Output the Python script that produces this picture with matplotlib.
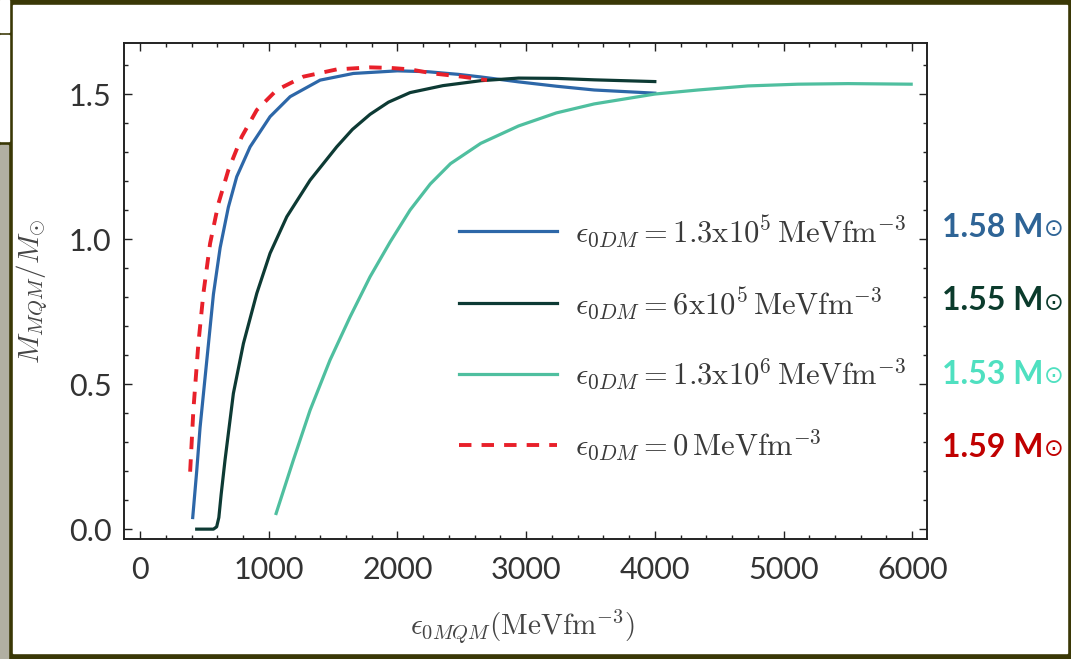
import matplotlib
matplotlib.use("Agg")
from matplotlib import pyplot as plt
from matplotlib.patches import Rectangle

# central energy density of quark matter (MeV fm^-3) vs. mass (solar masses)
eps_a = [409, 440, 466, 518, 570, 622, 686, 751, 855, 1010, 1166, 1399, 1657,
         2000, 2235, 2470, 2647, 2941, 3235, 3529, 4000]
m_a = [0.04, 0.2, 0.35, 0.58, 0.81, 0.97, 1.11, 1.215, 1.318, 1.422, 1.491,
       1.548, 1.571, 1.58, 1.577, 1.568, 1.559, 1.542, 1.527, 1.514, 1.503]

eps_b = [440, 570, 595, 612, 630, 660, 725, 803, 907, 1010, 1140, 1321, 1528,
         1650, 1787, 1930, 2098, 2353, 2647, 2941, 3235, 3529, 4000]
m_b = [0.0, 0.0, 0.008, 0.04, 0.12, 0.238, 0.468, 0.64, 0.813, 0.951, 1.077,
       1.203, 1.318, 1.378, 1.43, 1.472, 1.505, 1.529, 1.546, 1.555, 1.554,
       1.549, 1.543]

eps_c = [1057, 1191, 1321, 1476, 1632, 1787, 1943, 2098, 2255, 2412, 2647,
         2941, 3235, 3529, 4000, 4336, 4724, 5113, 5501, 5992]
m_c = [0.054, 0.238, 0.41, 0.583, 0.732, 0.87, 0.99, 1.10, 1.19, 1.26, 1.33,
       1.39, 1.435, 1.466, 1.50, 1.514, 1.528, 1.534, 1.536, 1.534]

eps_0 = [389, 414, 453, 492, 544, 609, 686, 790, 907, 1062, 1269, 1528, 1787,
         1950, 2098, 2277, 2500, 2696]
m_0 = [0.198, 0.41, 0.64, 0.813, 0.985, 1.123, 1.238, 1.353, 1.445, 1.514,
       1.56, 1.585, 1.592, 1.590, 1.585, 1.571, 1.56, 1.548]

labels = [r'$\epsilon_{0DM}=1.3\mathrm{x}10^{5}\,\mathrm{MeVfm}^{-3}$',
          r'$\epsilon_{0DM}=6\mathrm{x}10^{5}\,\mathrm{MeVfm}^{-3}$',
          r'$\epsilon_{0DM}=1.3\mathrm{x}10^{6}\,\mathrm{MeVfm}^{-3}$',
          r'$\epsilon_{0DM}=0\,\mathrm{MeVfm}^{-3}$']
max_masses = ['1.58', '1.55', '1.53', '1.59']

line_colors = ['#2d67a8', '#0d3a34', '#4fbf9f', '#e8202a']
note_colors = ['#2e6496', '#0b3b2c', '#4fe0c0', '#c00000']

plt.rcParams['mathtext.fontset'] = 'cm'
plt.rcParams['font.family'] = ['Lato', 'DejaVu Sans']

W, H = 1071, 659
fig = plt.figure(figsize=(W / 100, H / 100), dpi=100, facecolor='#3a3806')

# slide frame behind the plot
def frame_box(x0, y0, x1, y1, color):
    fig.patches.append(Rectangle((x0 / W, 1 - y1 / H), (x1 - x0) / W,
                                 (y1 - y0) / H, transform=fig.transFigure,
                                 color=color, zorder=-5))

frame_box(13, 5, 1067, 653, 'white')
frame_box(0, 0, 9, 32, 'white')
frame_box(0, 35, 9, 141, 'white')
frame_box(0, 145, 8, 659, '#b1afa2')

ax = fig.add_axes([124 / W, 1 - 539 / H, 803 / W, 496 / H])
ax.set_zorder(2)
ax.set_facecolor('white')

ax.plot(eps_a, m_a, color=line_colors[0], lw=2.3, label=labels[0])
ax.plot(eps_b, m_b, color=line_colors[1], lw=2.3, label=labels[1])
ax.plot(eps_c, m_c, color=line_colors[2], lw=2.3, label=labels[2])
ax.plot(eps_0, m_0, color=line_colors[3], lw=2.8, dashes=(3.2, 2.6),
        label=labels[3])

ax.set_xlim(-125, 6115)
ax.set_ylim(-0.034, 1.676)
ax.set_xticks(range(0, 7000, 1000))
ax.set_xticks(range(0, 6200, 200), minor=True)
ax.set_yticks([0.0, 0.5, 1.0, 1.5])
ax.set_yticks([i / 10 for i in range(17)], minor=True)
ax.set_yticklabels(['0.0', '0.5', '1.0', '1.5'])

ax.tick_params(which='both', direction='in', top=True, right=True,
               width=1.0, colors='#222222')
ax.tick_params(which='major', length=6, labelsize=22, pad=12,
               labelcolor='#333333')
ax.tick_params(axis='y', which='major', pad=9)
ax.tick_params(which='minor', length=3)
for sp in ax.spines.values():
    sp.set_linewidth(1.4)
    sp.set_color('#222222')

ax.set_xlabel(r'$\epsilon_{0MQM}(\mathrm{MeVfm}^{-3})$', fontsize=21,
              color='#444444')
ax.xaxis.set_label_coords(0.497, -0.137)
ax.set_ylabel(r'$M_{MQM}/M_{\odot}$', fontsize=21, color='#444444')
ax.yaxis.set_label_coords(-0.092, 0.5)

ax.legend(loc='upper left', bbox_to_anchor=(459 / W, 1 - 213 / H),
          bbox_transform=fig.transFigure, frameon=False, fontsize=22,
          handlelength=3.2, handletextpad=0.6, labelspacing=1.15,
          borderpad=0, borderaxespad=0, labelcolor='#3a3a3a')

# maximum masses next to the legend entries
for i, (mm, c) in enumerate(zip(max_masses, note_colors)):
    y = 1 - (227 + 73.5 * i) / H
    fig.text(942 / W, y, mm + ' M', color=c, fontsize=23,
             fontweight='bold', va='center', ha='left')
    fig.text(1054 / W, y - 2 / H, '\u2299', color=c, fontsize=17,
             va='center', ha='center', family='DejaVu Sans')

fig.savefig('out.png', dpi=100, facecolor=fig.get_facecolor())
